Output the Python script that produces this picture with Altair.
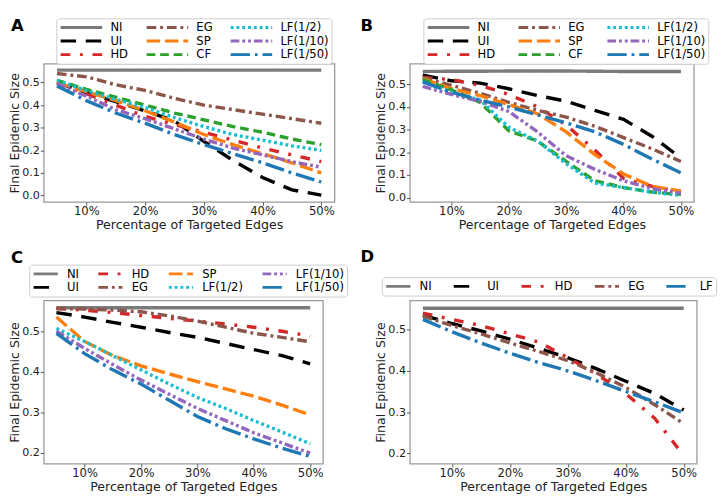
import altair as alt
import pandas as pd

FONT = "DejaVu Sans"

# x positions: percentage of targeted edges
x_pct = [5, 10, 15, 20, 25, 30, 35, 40, 45, 50]

# ---------------- Panel A ----------------
a_NI = [0.555, 0.555, 0.555, 0.555, 0.555, 0.555, 0.555, 0.555, 0.555, 0.555]
a_UI = [0.50, 0.455, 0.415, 0.375, 0.33, 0.24, 0.155, 0.08, 0.025, 0.002]
a_HD = [0.50, 0.45, 0.40, 0.35, 0.315, 0.28, 0.245, 0.21, 0.18, 0.15]
a_EG = [0.54, 0.525, 0.49, 0.465, 0.43, 0.40, 0.38, 0.36, 0.34, 0.32]
a_SP = [0.50, 0.46, 0.42, 0.375, 0.325, 0.27, 0.225, 0.185, 0.145, 0.10]
a_CF = [0.51, 0.47, 0.435, 0.40, 0.365, 0.335, 0.305, 0.28, 0.25, 0.225]
a_LF2 = [0.51, 0.465, 0.425, 0.39, 0.345, 0.305, 0.27, 0.245, 0.22, 0.20]
a_LF10 = [0.495, 0.44, 0.38, 0.34, 0.295, 0.25, 0.21, 0.18, 0.15, 0.125]
a_LF50 = [0.485, 0.42, 0.365, 0.32, 0.27, 0.225, 0.185, 0.145, 0.10, 0.06]

# ---------------- Panel B ----------------
b_NI = [0.556, 0.557, 0.557, 0.558, 0.558, 0.558, 0.557, 0.556, 0.556, 0.556]
b_UI = [0.54, 0.515, 0.505, 0.48, 0.45, 0.425, 0.385, 0.345, 0.27, 0.175]
b_HD = [0.53, 0.52, 0.495, 0.455, 0.40, 0.32, 0.21, 0.085, 0.05, 0.025]
b_EG = [0.53, 0.495, 0.46, 0.42, 0.385, 0.355, 0.315, 0.265, 0.215, 0.16]
b_SP = [0.525, 0.48, 0.45, 0.41, 0.37, 0.29, 0.19, 0.105, 0.05, 0.03]
b_CF = [0.52, 0.475, 0.42, 0.295, 0.25, 0.16, 0.075, 0.045, 0.025, 0.015]
b_LF2 = [0.51, 0.465, 0.43, 0.31, 0.25, 0.15, 0.065, 0.045, 0.025, 0.01]
b_LF10 = [0.49, 0.455, 0.425, 0.38, 0.29, 0.185, 0.125, 0.075, 0.04, 0.02]
b_LF50 = [0.51, 0.465, 0.43, 0.40, 0.365, 0.33, 0.29, 0.235, 0.17, 0.11]

# ---------------- Panel C ----------------
c_NI = [0.558, 0.558, 0.558, 0.558, 0.558, 0.558, 0.558, 0.558, 0.558, 0.558]
c_UI = [0.546, 0.535, 0.522, 0.51, 0.497, 0.485, 0.47, 0.455, 0.44, 0.42]
c_HD = [0.556, 0.552, 0.546, 0.539, 0.532, 0.525, 0.518, 0.51, 0.50, 0.488]
c_EG = [0.556, 0.555, 0.552, 0.548, 0.538, 0.525, 0.51, 0.495, 0.485, 0.474]
c_SP = [0.535, 0.475, 0.44, 0.415, 0.395, 0.376, 0.358, 0.34, 0.318, 0.294]
c_LF2 = [0.507, 0.475, 0.44, 0.405, 0.37, 0.337, 0.31, 0.28, 0.252, 0.223]
c_LF10 = [0.50, 0.458, 0.418, 0.38, 0.345, 0.31, 0.28, 0.25, 0.225, 0.20]
c_LF50 = [0.495, 0.445, 0.405, 0.37, 0.33, 0.29, 0.26, 0.235, 0.212, 0.192]

# ---------------- Panel D ----------------
d_NI = [0.552, 0.552, 0.552, 0.552, 0.552, 0.552, 0.552, 0.552, 0.552, 0.552]
d_UI = [0.535, 0.515, 0.497, 0.477, 0.455, 0.432, 0.405, 0.375, 0.345, 0.305]
d_HD = [0.54, 0.525, 0.51, 0.49, 0.47, 0.432, 0.392, 0.345, 0.285, 0.195]
d_EG = [0.533, 0.51, 0.49, 0.468, 0.447, 0.425, 0.395, 0.36, 0.318, 0.272]
d_LF = [0.525, 0.495, 0.468, 0.443, 0.42, 0.40, 0.376, 0.35, 0.325, 0.298]

COLORS = {
    "NI": "#7a7a7a", "UI": "#000000", "HD": "#d62728", "EG": "#8c564b",
    "SP": "#ff7f0e", "CF": "#2ca02c", "LF(1/2)": "#17becf",
    "LF(1/10)": "#9467bd", "LF(1/50)": "#1f77b4", "LF": "#1f77b4",
}
DASHES = {
    "NI": [1, 0], "UI": [16, 10], "HD": [10, 10, 3, 10], "EG": [10, 4, 3, 4],
    "SP": [14, 5], "CF": [9, 5], "LF(1/2)": [3, 3],
    "LF(1/10)": [9, 3, 3, 3, 3, 3], "LF(1/50)": [20, 5, 3, 5], "LF": [20, 5, 3, 5],
}


def panel(series, legend_order, ydom, yvals, w, h, leg, letter, lx, ly):
    rows = []
    for name, vals in series:
        for xv, yv in zip(x_pct, vals):
            rows.append({"pct": xv, "size": yv, "method": name})
    df = pd.DataFrame(rows)
    legend = alt.Legend(
        title=None, orient="none", legendX=leg["x"], legendY=leg["y"],
        columns=leg["cols"], symbolSize=leg["sym"] ** 2, symbolStrokeWidth=3,
        symbolType="stroke", labelFont=FONT, labelFontSize=12,
        labelOffset=leg["lo"], columnPadding=leg["cp"], rowPadding=1,
        clipHeight=13, padding=3, strokeColor="#cccccc", fillColor="white",
        cornerRadius=3, labelColor="#000000",
    )
    lines = alt.Chart(df).mark_line(strokeWidth=3.5, clip=True).encode(
        x=alt.X("pct:Q",
                scale=alt.Scale(domain=[2.75, 52.25], nice=False, zero=False),
                axis=alt.Axis(values=[10, 20, 30, 40, 50],
                              labelExpr="datum.value + '%'",
                              title="Percentage of Targeted Edges")),
        y=alt.Y("size:Q",
                scale=alt.Scale(domain=ydom, nice=False, zero=False),
                axis=alt.Axis(values=yvals, format=".1f",
                              title="Final Epidemic Size")),
        color=alt.Color("method:N",
                        scale=alt.Scale(domain=legend_order,
                                        range=[COLORS[m] for m in legend_order]),
                        legend=legend),
        strokeDash=alt.StrokeDash("method:N",
                                  scale=alt.Scale(domain=legend_order,
                                                  range=[DASHES[m] for m in legend_order]),
                                  legend=legend),
    )
    lab = alt.Chart(pd.DataFrame({"t": [letter]})).mark_text(
        font=FONT, fontSize=17, fontWeight="bold", align="left",
        baseline="top", color="black",
    ).encode(text="t:N", x=alt.value(lx), y=alt.value(ly))
    return alt.layer(lines, lab).properties(width=w, height=h)


order9 = ["NI", "UI", "HD", "EG", "SP", "CF", "LF(1/2)", "LF(1/10)", "LF(1/50)"]
orderC = ["NI", "UI", "HD", "EG", "SP", "LF(1/2)", "LF(1/10)", "LF(1/50)"]
orderD = ["NI", "UI", "HD", "EG", "LF"]

A = panel([("NI", a_NI), ("UI", a_UI), ("HD", a_HD), ("EG", a_EG), ("SP", a_SP),
           ("CF", a_CF), ("LF(1/2)", a_LF2), ("LF(1/10)", a_LF10), ("LF(1/50)", a_LF50)],
          order9, [-0.028, 0.583], [0.0, 0.1, 0.2, 0.3, 0.4, 0.5], 301, 143,
          dict(x=13, y=-47, cols=3, sym=43, lo=7, cp=17), "A", -34, -47)
B = panel([("NI", b_NI), ("UI", b_UI), ("HD", b_HD), ("EG", b_EG), ("SP", b_SP),
           ("CF", b_CF), ("LF(1/2)", b_LF2), ("LF(1/10)", b_LF10), ("LF(1/50)", b_LF50)],
          order9, [-0.018, 0.59], [0.0, 0.1, 0.2, 0.3, 0.4, 0.5], 294, 143,
          dict(x=14, y=-47, cols=3, sym=43, lo=7, cp=22), "B", -51, -47)
C = panel([("NI", c_NI), ("UI", c_UI), ("HD", c_HD), ("EG", c_EG), ("SP", c_SP),
           ("LF(1/2)", c_LF2), ("LF(1/10)", c_LF10), ("LF(1/50)", c_LF50)],
          orderC, [0.174, 0.576], [0.2, 0.3, 0.4, 0.5], 289, 169,
          dict(x=-15, y=-37, cols=4, sym=25, lo=8, cp=18), "C", -34, -52)
D = panel([("NI", d_NI), ("UI", d_UI), ("HD", d_HD), ("EG", d_EG), ("LF", d_LF)],
          orderD, [0.175, 0.571], [0.2, 0.3, 0.4, 0.5], 297, 169,
          dict(x=-29, y=-24, cols=5, sym=25, lo=8, cp=21), "D", -51, -53)

chart = alt.concat(
    A, B, C, D, columns=2, bounds="flush",
    spacing={"row": 102, "column": 78}, padding=0,
).resolve_scale(
    x="independent", y="independent", color="independent", strokeDash="independent"
).resolve_legend(color="independent", strokeDash="independent")

chart = chart.configure_axis(
    labelFont=FONT, titleFont=FONT, titleFontSize=13,
    titleFontWeight="normal", labelColor="#222222", titleColor="#222222",
    tickColor="#555555", tickSize=3.5, domain=False, grid=False,
    labelPadding=1,
).configure_axisX(
    labelFontSize=12, titlePadding=2,
).configure_axisY(
    labelFontSize=11.5, titlePadding=0,
).configure_view(stroke="#999999", strokeWidth=1.3)

chart.save("out.html", embed_options={"renderer": "svg", "actions": False})
